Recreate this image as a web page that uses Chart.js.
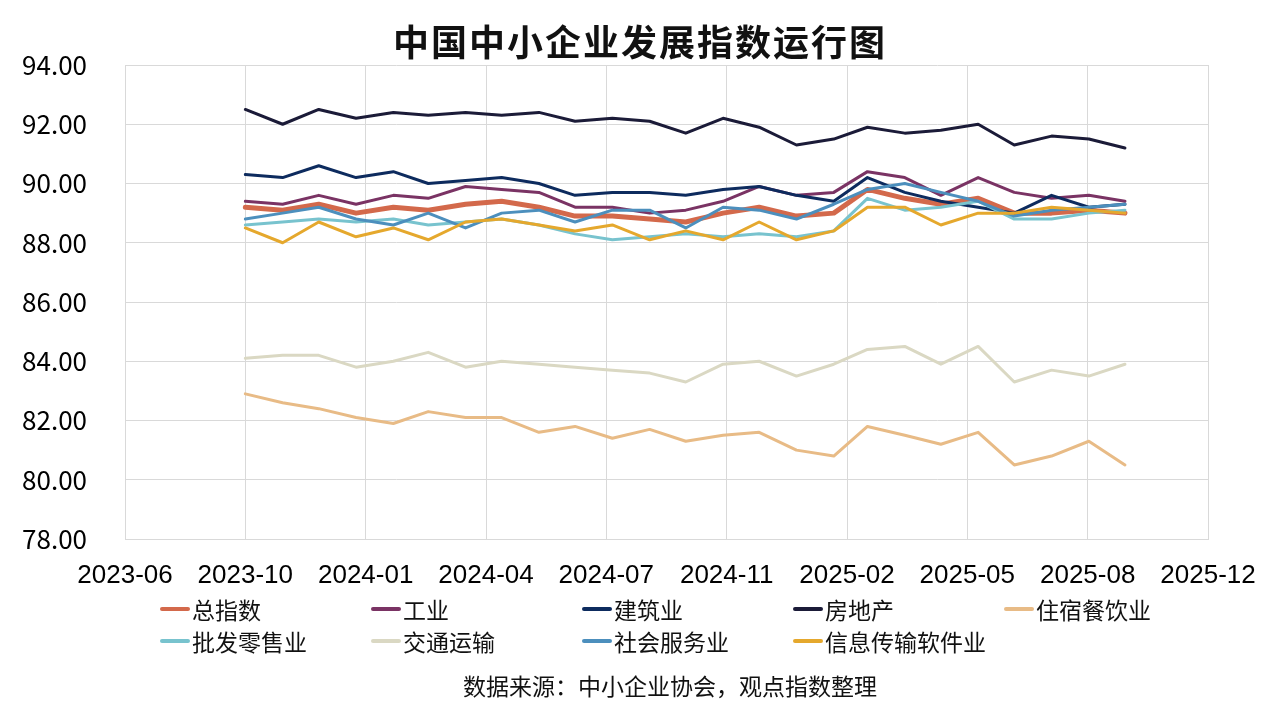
<!DOCTYPE html>
<html>
<head>
<meta charset="utf-8">
<script src="https://cdn.jsdelivr.net/npm/chart.js@4.4.1/dist/chart.umd.min.js"></script>
<style>
  html, body { margin: 0; padding: 0; background: #fff; }
  #wrap { position: relative; width: 1280px; height: 720px; font-family: "Noto Sans CJK SC", sans-serif; color: #111; }
  #title { position: absolute; left: 0; top: 14px; width: 1280px; text-align: center; font-size: 36px; font-weight: bold; letter-spacing: 2px; }
  #legend { position: absolute; left: 160px; top: 594px; display: grid; grid-template-columns: repeat(5, 211px); row-gap: 2px; font-size: 23px; }
  #legend div { display: flex; align-items: center; height: 30px; white-space: nowrap; }
  #legend span.ln { display: inline-block; width: 30px; height: 4px; margin-right: 2px; border-radius: 2px; }
  #source { position: absolute; left: 0; top: 668px; width: 1340px; text-align: center; font-size: 23px; }
</style>
</head>
<body>
<div id="wrap">
  <canvas id="lineChart" width="1280" height="720"></canvas>
  <div id="title">中国中小企业发展指数运行图</div>
  <div id="legend"></div>
  <div id="source">数据来源：中小企业协会，观点指数整理</div>
</div>
<script>
// monthly observations
var months = ['2023-10','2023-11','2023-12','2024-01','2024-02','2024-03','2024-04','2024-05','2024-06',
              '2024-07','2024-08','2024-09','2024-10','2024-11','2024-12','2025-01','2025-02','2025-03',
              '2025-04','2025-05','2025-06','2025-07','2025-08','2025-09','2025-10'];

var seriesNames = ['总指数','工业','建筑业','房地产','住宿餐饮业','批发零售业','交通运输','社会服务业','信息传输软件业'];

var zongZhiShu = [89.2,89.1,89.3,89.0,89.2,89.1,89.3,89.4,89.2,88.9,88.9,88.8,88.7,89.0,89.2,88.9,89.0,89.8,89.5,89.3,89.5,89.0,89.0,89.1,89.0];
var gongYe     = [89.4,89.3,89.6,89.3,89.6,89.5,89.9,89.8,89.7,89.2,89.2,89.0,89.1,89.4,89.9,89.6,89.7,90.4,90.2,89.6,90.2,89.7,89.5,89.6,89.4];
var jianZhu    = [90.3,90.2,90.6,90.2,90.4,90.0,90.1,90.2,90.0,89.6,89.7,89.7,89.6,89.8,89.9,89.6,89.4,90.2,89.7,89.4,89.2,89.0,89.6,89.2,89.3];
var fangDiChan = [92.5,92.0,92.5,92.2,92.4,92.3,92.4,92.3,92.4,92.1,92.2,92.1,91.7,92.2,91.9,91.3,91.5,91.9,91.7,91.8,92.0,91.3,91.6,91.5,91.2];
var zhuSu      = [82.9,82.6,82.4,82.1,81.9,82.3,82.1,82.1,81.6,81.8,81.4,81.7,81.3,81.5,81.6,81.0,80.8,81.8,81.5,81.2,81.6,80.5,80.8,81.3,80.5];
var piFa       = [88.6,88.7,88.8,88.7,88.8,88.6,88.7,88.8,88.6,88.3,88.1,88.2,88.3,88.2,88.3,88.2,88.4,89.5,89.1,89.2,89.4,88.8,88.8,89.0,89.1];
var jiaoTong   = [84.1,84.2,84.2,83.8,84.0,84.3,83.8,84.0,83.9,83.8,83.7,83.6,83.3,83.9,84.0,83.5,83.9,84.4,84.5,83.9,84.5,83.3,83.7,83.5,83.9];
var sheHui     = [88.8,89.0,89.2,88.8,88.6,89.0,88.5,89.0,89.1,88.7,89.1,89.1,88.5,89.2,89.1,88.8,89.3,89.8,90.0,89.7,89.4,88.9,89.1,89.2,89.3];
var xinXi      = [88.5,88.0,88.7,88.2,88.5,88.1,88.7,88.8,88.6,88.4,88.6,88.1,88.4,88.1,88.7,88.1,88.4,89.2,89.2,88.6,89.0,89.0,89.2,89.1,89.0];

var colors = ['#D3694B','#7A3364','#0D2B5E','#1B1B38','#E8BB86','#78C3CE','#DAD8C3','#4C8FBD','#E5A82D'];
var widths = [5,3,3,3,3,3,3,3,3];

// x axis is a date axis in days counted from 2023-10-01
var base = Date.UTC(2023, 9, 1);
function dayOf(m) {
    var p = m.split('-');
    return Math.round((Date.UTC(+p[0], +p[1] - 1, 1) - base) / 86400000);
}
function labelOf(d) {
    var dt = new Date(base + d * 86400000);
    var mm = dt.getUTCMonth() + 1;
    return dt.getUTCFullYear() + '-' + (mm < 10 ? '0' + mm : mm);
}

var allValues = [zongZhiShu, gongYe, jianZhu, fangDiChan, zhuSu, piFa, jiaoTong, sheHui, xinXi];
var datasets = [];
for (let i in allValues) {
    datasets.push({
        label: seriesNames[i],
        data: months.map((m, k) => ({ x: dayOf(m), y: allValues[i][k] })),
        borderColor: colors[i],
        backgroundColor: colors[i],
        borderWidth: widths[i],
        pointRadius: 0,
        tension: 0,
        fill: false,
        borderJoinStyle: 'round',
        borderCapStyle: 'round',
        order: allValues.length - i
    });
}

// legend
var legend = document.getElementById('legend');
seriesNames.forEach((name, i) => {
    var d = document.createElement('div');
    d.innerHTML = '<span class="ln" style="background:' + colors[i] + '"></span>' + name;
    legend.appendChild(d);
});

var gridColor = '#D9D9D9';
var ctx = document.getElementById('lineChart').getContext('2d');
var lineChart = new Chart(ctx, {
    type: 'line',
    data: { datasets: datasets },
    options: {
        responsive: false,
        animation: false,
        layout: { padding: { left: 0, top: 65, right: 72, bottom: 131 } },
        plugins: { legend: { display: false }, tooltip: { enabled: false } },
        scales: {
            x: {
                type: 'linear',
                min: -100,
                max: 800,
                afterFit: (s) => { s.height = 50; },
                grid: { color: gridColor, drawTicks: false },
                border: { color: gridColor },
                ticks: {
                    stepSize: 100,
                    padding: 21,
                    maxRotation: 0,
                    autoSkip: false,
                    color: '#000',
                    font: { family: 'Liberation Sans', size: 26 },
                    callback: (v) => labelOf(v)
                }
            },
            y: {
                min: 78,
                max: 94,
                afterFit: (s) => { s.width = 125; },
                grid: { color: gridColor, drawTicks: false },
                border: { color: gridColor },
                ticks: {
                    stepSize: 2,
                    padding: 38,
                    color: '#000',
                    font: { family: 'Noto Sans CJK SC', size: 26 },
                    callback: (v) => v.toFixed(2)
                }
            }
        }
    }
});
</script>
</body>
</html>
